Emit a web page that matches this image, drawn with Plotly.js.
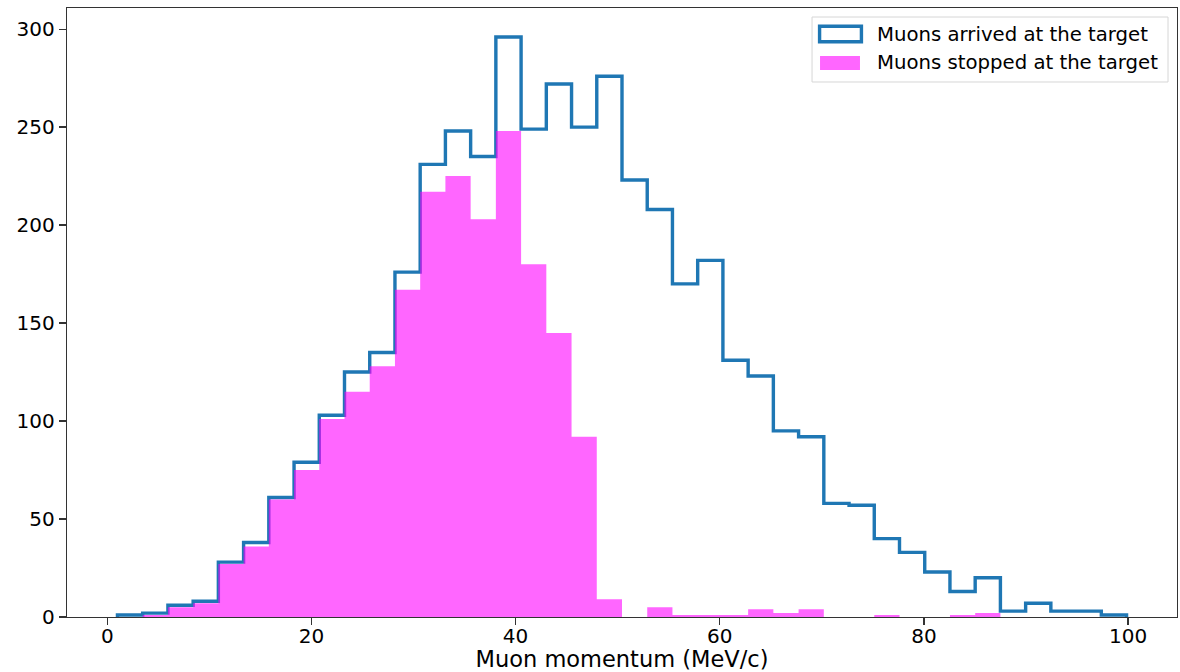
<!DOCTYPE html>
<html>
<head>
<meta charset="utf-8">
<script src="https://cdn.plot.ly/plotly-3.0.1.min.js"></script>
<style>html,body{margin:0;padding:0;background:#fff;}#chart{width:1180px;height:672px;}</style>
</head>
<body>
<div id="chart"></div>
<script>
// Histogram binning (40 bins)
const binStart = 1.0;
const binEnd = 99.85;
const nBins = 40;

// Counts per bin: muons arrived at the target
const arrivedCounts = [1, 2, 6, 8, 28, 38, 61, 79, 103, 125,
  135, 176, 231, 248, 235, 296, 249, 272, 250, 276,
  223, 208, 170, 182, 131, 123, 95, 92, 58, 57,
  40, 33, 23, 13, 20, 3, 7, 3, 3, 1];

// Counts per bin: muons stopped at the target
const stoppedCounts = [0, 1, 5, 7, 27, 36, 60, 75, 101, 115,
  128, 167, 217, 225, 203, 248, 180, 145, 92, 9,
  0, 5, 1, 1, 1, 4, 2, 4, 0, 0,
  1, 0, 0, 1, 2, 0, 0, 0, 0, 0];

const seriesNames = ['Muons arrived at the target', 'Muons stopped at the target'];
const xTicks = [0, 20, 40, 60, 80, 100];
const yTicks = [0, 50, 100, 150, 200, 250, 300];
const xTitle = 'Muon momentum (MeV/c)';

const binW = (binEnd - binStart) / nBins;
const edges = [];
for (let i = 0; i <= nBins; i++) edges.push(binStart + i * binW);

// step outline for arrived
const stepX = [edges[0]].concat(edges.slice(0, nBins)).concat([edges[nBins], edges[nBins]]);
const stepY = [0].concat(arrivedCounts).concat([arrivedCounts[nBins - 1], 0]);

// filled step for stopped
const fillX = edges.slice();
const fillY = stoppedCounts.concat([stoppedCounts[nBins - 1]]);

const BLUE = '#1f77b4';
const PINK = 'rgba(255,0,255,0.6)';
const FONT = 'DejaVu Sans, Liberation Sans, sans-serif';

const traces = [
  {
    type: 'scatter', mode: 'lines', x: stepX, y: stepY,
    line: {shape: 'hv', color: BLUE, width: 3.4},
    name: seriesNames[0], showlegend: false, hoverinfo: 'skip'
  },
  {
    type: 'scatter', mode: 'lines', x: fillX, y: fillY,
    line: {shape: 'hv', color: 'rgba(0,0,0,0)', width: 0},
    fill: 'tozeroy', fillcolor: PINK,
    name: seriesNames[1], showlegend: false, hoverinfo: 'skip'
  }
];

// legend geometry (paper coords)
const L = {x0: 0.6712, x1: 0.9919, y0: 0.8785, y1: 0.9852};
const layout = {
  width: 1180, height: 672,
  margin: {l: 67, r: 3, t: 8, b: 55, pad: 0},
  paper_bgcolor: '#fff', plot_bgcolor: '#fff',
  font: {family: FONT, color: '#000', size: 20},
  showlegend: false,
  xaxis: {
    range: [binStart - 0.05 * (binEnd - binStart), binEnd + 0.05 * (binEnd - binStart)],
    tickvals: xTicks, ticktext: xTicks.map(String),
    ticks: 'outside', ticklen: 7, tickwidth: 1.3, tickcolor: '#333',
    ticklabelstandoff: -6,
    showline: true, mirror: true, linecolor: '#333', linewidth: 1.3,
    showgrid: false, zeroline: false,
    tickfont: {family: FONT, size: 20, color: '#000'},
    title: {text: xTitle, font: {family: FONT, size: 22.5, color: '#000'}, standoff: 7},
    automargin: false
  },
  yaxis: {
    range: [0, 296 * 1.05],
    tickvals: yTicks, ticktext: yTicks.map(String),
    ticks: 'outside', ticklen: 7, tickwidth: 1.3, tickcolor: '#333',
    showline: true, mirror: true, linecolor: '#333', linewidth: 1.3,
    showgrid: false, zeroline: false,
    tickfont: {family: FONT, size: 20, color: '#000'},
    automargin: false
  },
  shapes: [
    {type: 'rect', xref: 'paper', yref: 'paper', x0: L.x0, x1: L.x1, y0: L.y0, y1: L.y1,
      line: {color: '#d6d6d6', width: 1}, fillcolor: 'rgba(255,255,255,0.8)', layer: 'above'},
    {type: 'rect', xref: 'paper', yref: 'paper', x0: 0.6780, x1: 0.7157, y0: 0.9445, y1: 0.9700,
      line: {color: BLUE, width: 3.4}, fillcolor: 'rgba(0,0,0,0)', layer: 'above'},
    {type: 'rect', xref: 'paper', yref: 'paper', x0: 0.6784, x1: 0.7144, y0: 0.8982, y1: 0.9212,
      line: {width: 0}, fillcolor: PINK, layer: 'above'}
  ],
  annotations: [
    {xref: 'paper', yref: 'paper', x: 0.7277, y: 0.9573, xanchor: 'left', yanchor: 'middle',
      text: seriesNames[0], showarrow: false, font: {family: FONT, size: 19.7, color: '#000'}},
    {xref: 'paper', yref: 'paper', x: 0.7277, y: 0.9097, xanchor: 'left', yanchor: 'middle',
      text: seriesNames[1], showarrow: false, font: {family: FONT, size: 19.7, color: '#000'}}
  ]
};

Plotly.newPlot('chart', traces, layout, {displayModeBar: false, staticPlot: true});
</script>
</body>
</html>
